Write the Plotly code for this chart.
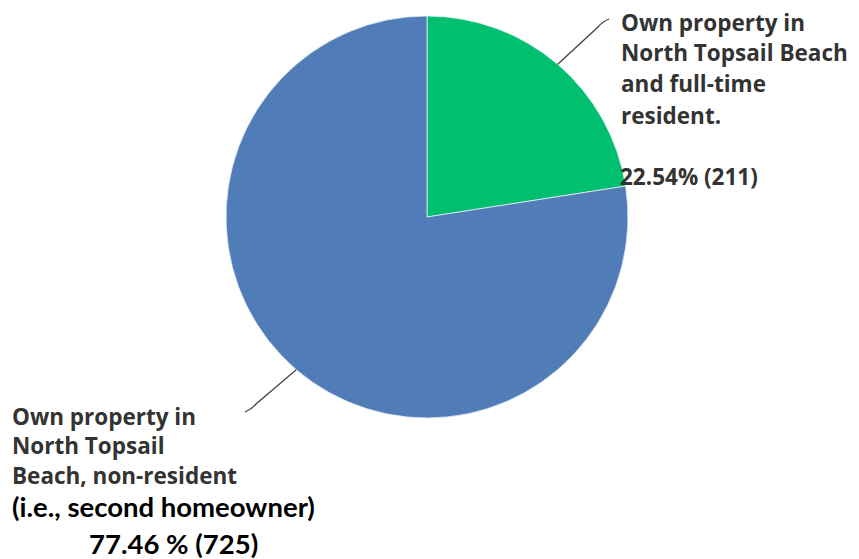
import math
import plotly.graph_objects as go

# Survey responses: property ownership in North Topsail Beach
categories = [
    "Own property in North Topsail Beach and full-time resident.",
    "Own property in North Topsail Beach, non-resident",
]
counts = [211, 725]
percents = [22.54, 77.46]
colors = ["#00BF6F", "#507CB7"]

W, H = 859, 559
# pie placement in pixels (center and radius)
CX, CY, R = 427, 217, 201


def px(x):
    return x / W


def py(y):
    return 1 - y / H


fig = go.Figure()
fig.add_trace(go.Pie(
    labels=categories,
    values=counts,
    sort=False,
    direction="clockwise",
    rotation=0,
    textinfo="none",
    hoverinfo="label+value+percent",
    marker=dict(colors=colors, line=dict(color="rgba(230,240,250,0.8)", width=1)),
    domain=dict(x=[px(CX - R), px(CX + R)], y=[py(CY + R), py(CY - R)]),
    showlegend=False,
))

# leader lines start on the rim at each slice's mid angle
total = sum(counts)
mids = []
acc = 0
for c in counts:
    mids.append((acc + c / 2) / total * 2 * math.pi)
    acc += c


def rim(theta, r=R):
    return CX + r * math.sin(theta), CY - r * math.cos(theta)


shapes = []
# upper leader (green slice), hooking to the right
x0, y0 = rim(mids[0])
ex, ey = 602, 22
path = (f"M {px(x0)},{py(y0)} L {px(ex - 4)},{py(ey + 5)} "
        f"Q {px(ex)},{py(ey)} {px(ex + 7)},{py(ey - 3)}")
shapes.append(dict(type="path", xref="paper", yref="paper", path=path,
                   line=dict(color="#444444", width=1.3)))
# lower leader (blue slice), hooking to the left
x0, y0 = rim(mids[1])
ex, ey = 252, 409
path = (f"M {px(x0)},{py(y0)} L {px(ex + 4)},{py(ey - 5)} "
        f"Q {px(ex)},{py(ey)} {px(ex - 7)},{py(ey + 3)}")
shapes.append(dict(type="path", xref="paper", yref="paper", path=path,
                   line=dict(color="#444444", width=1.3)))

label_font = dict(family="'Open Sans', Roboto, sans-serif", size=22.5, color="#333333", weight=700)
note_font = dict(family="Lato, 'Open Sans', sans-serif", size=27.5, color="#000000", weight=700)

annotations = []


def add_line(text, x, y, font, xanchor="left"):
    annotations.append(dict(text=text, x=px(x), y=py(y), xref="paper", yref="paper",
                            xanchor=xanchor, yanchor="middle", showarrow=False,
                            borderpad=0, font=font))


upper_lines = ["Own property in", "North Topsail Beach", "and full-time", "resident."]
for i, t in enumerate(upper_lines):
    add_line(t, 620, 22 + i * 31, label_font)
add_line(f"{percents[0]:.2f}% ({counts[0]})", 619, 177, label_font)

lower_lines = ["Own property in", "North Topsail", "Beach, non-resident"]
for i, t in enumerate(lower_lines):
    add_line(t, 11, 416 + i * 29.5, label_font)
add_line("(i.e., second homeowner)", 11, 506, note_font)
add_line(f"{percents[1]:.2f} % ({counts[1]})", 88, 543, note_font)

fig.update_layout(
    width=W, height=H,
    margin=dict(l=0, r=0, t=0, b=0),
    paper_bgcolor="white",
    plot_bgcolor="white",
    shapes=shapes,
    annotations=annotations,
)

fig.write_html("out.html")
